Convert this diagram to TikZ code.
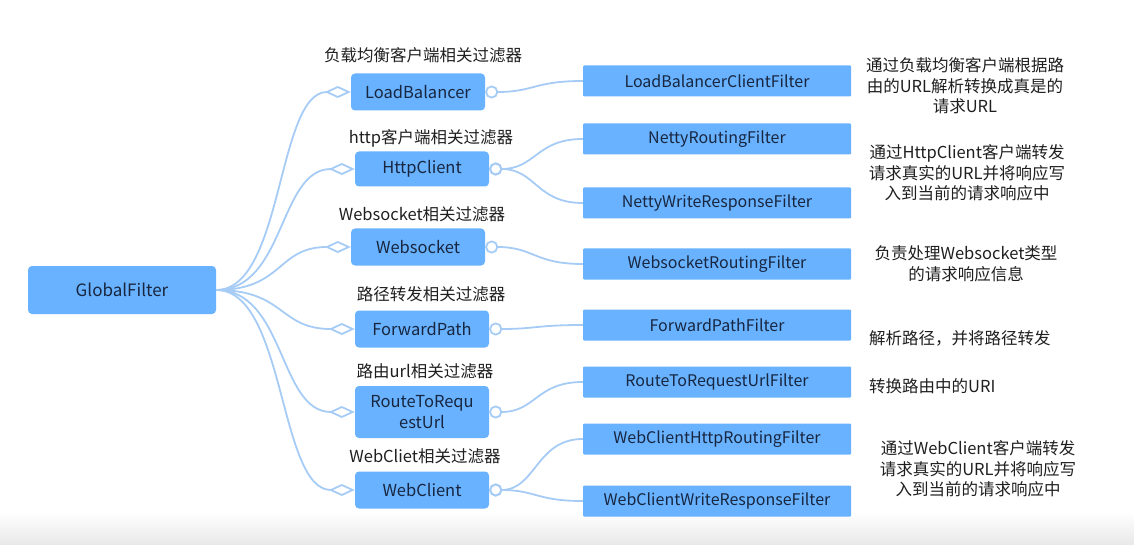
\documentclass[tikz,border=0pt]{standalone}
\usepackage{fontspec}
\setmainfont{Noto Sans CJK SC}
\usetikzlibrary{arrows.meta,calc}
\definecolor{boxFill}{RGB}{104,178,255}
\definecolor{boxText}{RGB}{24,38,64}
\definecolor{linkColor}{RGB}{166,204,246}
\colorlet{noteText}{black!88}

\begin{document}
\begin{tikzpicture}[x=1pt,y=-1pt,
  groupBox/.style={fill=boxFill,text=boxText,rounded corners=4pt,minimum width=134pt,minimum height=37pt,inner sep=0pt,font=\fontsize{16.5}{18}\selectfont,align=center},
  filterBox/.style={fill=boxFill,text=boxText,rounded corners=1pt,minimum width=268pt,minimum height=31pt,inner sep=0pt,font=\fontsize{16}{18}\selectfont},
  groupLabel/.style={text=noteText,font=\fontsize{16.5}{18}\selectfont,inner sep=0pt},
  note/.style={text=noteText,font=\fontsize{16.5}{20.5}\selectfont,inner sep=0pt,align=center},
  toGroup/.style={linkColor,line width=1.8pt,-{Diamond[open,length=26pt,width=12pt,line width=1.8pt]}},
  toFilter/.style={linkColor,line width=1.8pt,{Circle[open,length=13pt,width=13pt,line width=1.8pt]}-}]
\useasboundingbox (0,0) rectangle (1134,545);
\shade[top color=white,bottom color=black!9] (0,512) rectangle (1134,545);

\node[groupBox,minimum width=188pt,minimum height=48pt,font=\fontsize{17}{18}\selectfont] (global) at (122,290) {GlobalFilter};

\node[groupBox] (lb) at (418,92) {LoadBalancer};
\node[groupBox,minimum height=35pt] (http) at (422,169) {HttpClient};
\node[groupBox] (ws) at (418,247) {Websocket};
\node[groupBox] (fwd) at (422,329) {ForwardPath};
\node[groupBox,minimum height=52pt,font=\fontsize{16.5}{21}\selectfont] (route) at (422,412) {RouteToRequ\\estUrl};
\node[groupBox] (wc) at (422,490) {WebClient};

\node[groupLabel] (lbLabel) at (423,55) {负载均衡客户端相关过滤器};
\node[groupLabel] (httpLabel) at (431,138) {http客户端相关过滤器};
\node[groupLabel] (wsLabel) at (422,214) {Websocket相关过滤器};
\node[groupLabel] (fwdLabel) at (431,294) {路径转发相关过滤器};
\node[groupLabel] (routeLabel) at (425,371) {路由url相关过滤器};
\node[groupLabel] (wcLabel) at (425,456) {WebCliet相关过滤器};

\node[filterBox] (lbcf) at (717,81) {LoadBalancerClientFilter};
\node[filterBox] (nrf) at (717,139) {NettyRoutingFilter};
\node[filterBox] (nwrf) at (717,203) {NettyWriteResponseFilter};
\node[filterBox] (wsrf) at (717,264) {WebsocketRoutingFilter};
\node[filterBox] (fpf) at (717,325) {ForwardPathFilter};
\node[filterBox] (rturf) at (717,382) {RouteToRequestUrlFilter};
\node[filterBox] (wchrf) at (717,439) {WebClientHttpRoutingFilter};
\node[filterBox] (wcwrf) at (717,501) {WebClientWriteResponseFilter};

\node[note] (lbNote) at (965,86) {通过负载均衡客户端根据路\\由的URL解析转换成真是的\\请求URL};
\node[note] (httpNote) at (967,173) {通过HttpClient客户端转发\\请求真实的URL并将响应写\\入到当前的请求响应中};
\node[note] (wsNote) at (966,264) {负责处理Websocket类型\\的请求响应信息};
\node[note,anchor=west] (fwdNote) at (869,338) {解析路径，并将路径转发};
\node[note,anchor=west] (routeNote) at (869,386) {转换路由中的URI};
\node[note] (wcNote) at (978,469) {通过WebClient客户端转发\\请求真实的URL并将响应写\\入到当前的请求响应中};

\foreach \g in {lb,http,ws,fwd,route,wc}
  \draw[toGroup] (global.east) .. controls ($(global.east)!0.5!(\g.west |- global.east)$) and ($(global.east |- \g.west)!0.45!(\g.west)$) .. (\g.west);

\foreach \g/\f in {lb/lbcf,http/nrf,http/nwrf,ws/wsrf,fwd/fpf,route/rturf,wc/wchrf,wc/wcwrf}
  \draw[toFilter] (\g.east) .. controls ($(\g.east)!0.5!(\f.west |- \g.east)$) and ($(\g.east |- \f.west)!0.5!(\f.west)$) .. (\f.west);
\end{tikzpicture}
\end{document}
